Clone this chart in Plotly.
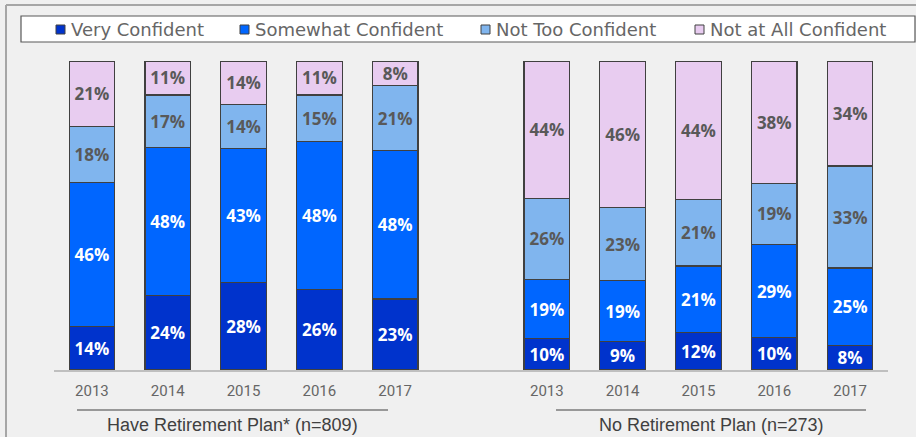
import plotly.graph_objects as go

# categories: two groups of survey years, with an empty slot between them
years = ["2013", "2014", "2015", "2016", "2017"]
groups = ["Have Retirement Plan* (n=809)", "No Retirement Plan (n=273)"]
levels = ["Very Confident", "Somewhat Confident", "Not Too Confident", "Not at All Confident"]

# percentages, per level: first the "have plan" years, then the "no plan" years
very_have = [14, 24, 28, 26, 23]
some_have = [46, 48, 43, 48, 48]
nottoo_have = [18, 17, 14, 15, 21]
notall_have = [21, 11, 14, 11, 8]

very_none = [10, 9, 12, 10, 8]
some_none = [19, 19, 21, 29, 25]
nottoo_none = [26, 23, 21, 19, 33]
notall_none = [44, 46, 44, 38, 34]

colors = ["#0033cc", "#0066ff", "#80b5ee", "#e8ccf0"]
text_colors = ["white", "white", "#595959", "#595959"]

W, H = 916, 437
L, R, T, B = 54, 888, 61, 370  # plot area in pixels


def px_x(p):
    return (p - L) / (R - L)


def px_y(p):
    return (B - p) / (B - T)


left_keys = ["have " + y for y in years]
right_keys = ["none " + y for y in years]
cats = left_keys + ["gap"] + right_keys

series = [
    very_have + very_none,
    some_have + some_none,
    nottoo_have + nottoo_none,
    notall_have + notall_none,
]

fig = go.Figure()
for name, vals, col, tcol in zip(levels, series, colors, text_colors):
    fig.add_trace(go.Bar(
        x=left_keys + right_keys,
        y=vals,
        name=name,
        marker=dict(color=col, line=dict(color="#404040", width=1.2)),
        width=0.6,
        text=[f"{v}%" for v in vals],
        textposition="inside",
        insidetextanchor="middle",
        textangle=0,
        textfont=dict(family="Open Sans", size=17, color=tcol, weight="bold"),
        hoverinfo="skip",
        showlegend=False,
    ))

fig.update_layout(
    width=W, height=H,
    barmode="stack",
    barnorm="percent",
    paper_bgcolor="#f0f0f0",
    plot_bgcolor="#f0f0f0",
    margin=dict(l=L, r=W - R, t=T, b=H - B, pad=0),
    uniformtext=dict(minsize=17, mode="show"),
)

fig.update_xaxes(
    type="category",
    categoryorder="array",
    categoryarray=cats,
    range=[-0.5, len(cats) - 0.5],
    tickvals=left_keys + right_keys,
    ticktext=years + years,
    tickfont=dict(family="Roboto", size=15, color="#666666"),
    showline=True, linecolor="#bfbfbf", linewidth=2,
    ticks="outside", ticklen=6, tickcolor="rgba(0,0,0,0)",
    showgrid=False,
)
fig.update_yaxes(range=[0, 100], visible=False, showgrid=False)

shapes = [
    # outer frame (left and top edges)
    dict(type="line", xref="paper", yref="paper",
         x0=px_x(6), x1=px_x(6), y0=px_y(5), y1=px_y(H + 5),
         line=dict(color="#a6a6a6", width=2)),
    dict(type="line", xref="paper", yref="paper",
         x0=px_x(6), x1=px_x(W + 5), y0=px_y(5), y1=px_y(5),
         line=dict(color="#a6a6a6", width=2)),
    # legend box
    dict(type="rect", xref="paper", yref="paper", layer="below",
         x0=px_x(21), x1=px_x(915), y0=px_y(16), y1=px_y(42),
         fillcolor="white", line=dict(color="#595959", width=1.2)),
    # group underlines
    dict(type="line", xref="paper", yref="paper",
         x0=px_x(77), x1=px_x(388), y0=px_y(410), y1=px_y(410),
         line=dict(color="#404040", width=1)),
    dict(type="line", xref="paper", yref="paper",
         x0=px_x(556), x1=px_x(866), y0=px_y(410), y1=px_y(410),
         line=dict(color="#404040", width=1)),
]

# legend: small bordered square + label for each level
legend_x = [56, 240, 481, 695]
for name, col, lx in zip(levels, colors, legend_x):
    shapes.append(dict(
        type="rect", xref="paper", yref="paper",
        x0=px_x(lx), x1=px_x(lx + 9), y0=px_y(25), y1=px_y(34),
        fillcolor=col, line=dict(color="#404040", width=1),
    ))
    fig.add_annotation(
        text=name, xref="paper", yref="paper",
        x=px_x(lx + 13), y=px_y(29.5), xanchor="left", yanchor="middle",
        showarrow=False,
        font=dict(family="DejaVu Sans", size=18, color="#666666"),
    )

fig.update_layout(shapes=shapes)

for label, cx in zip(groups, [232, 711]):
    fig.add_annotation(
        text=label, xref="paper", yref="paper",
        x=px_x(cx), y=px_y(425), xanchor="center", yanchor="middle",
        showarrow=False,
        font=dict(family="Liberation Sans", size=18, color="#404040"),
    )

fig.write_html(
    "out.html",
    config={"displayModeBar": False},
    post_script="document.body.style.margin='0';document.body.style.overflow='hidden';",
)
